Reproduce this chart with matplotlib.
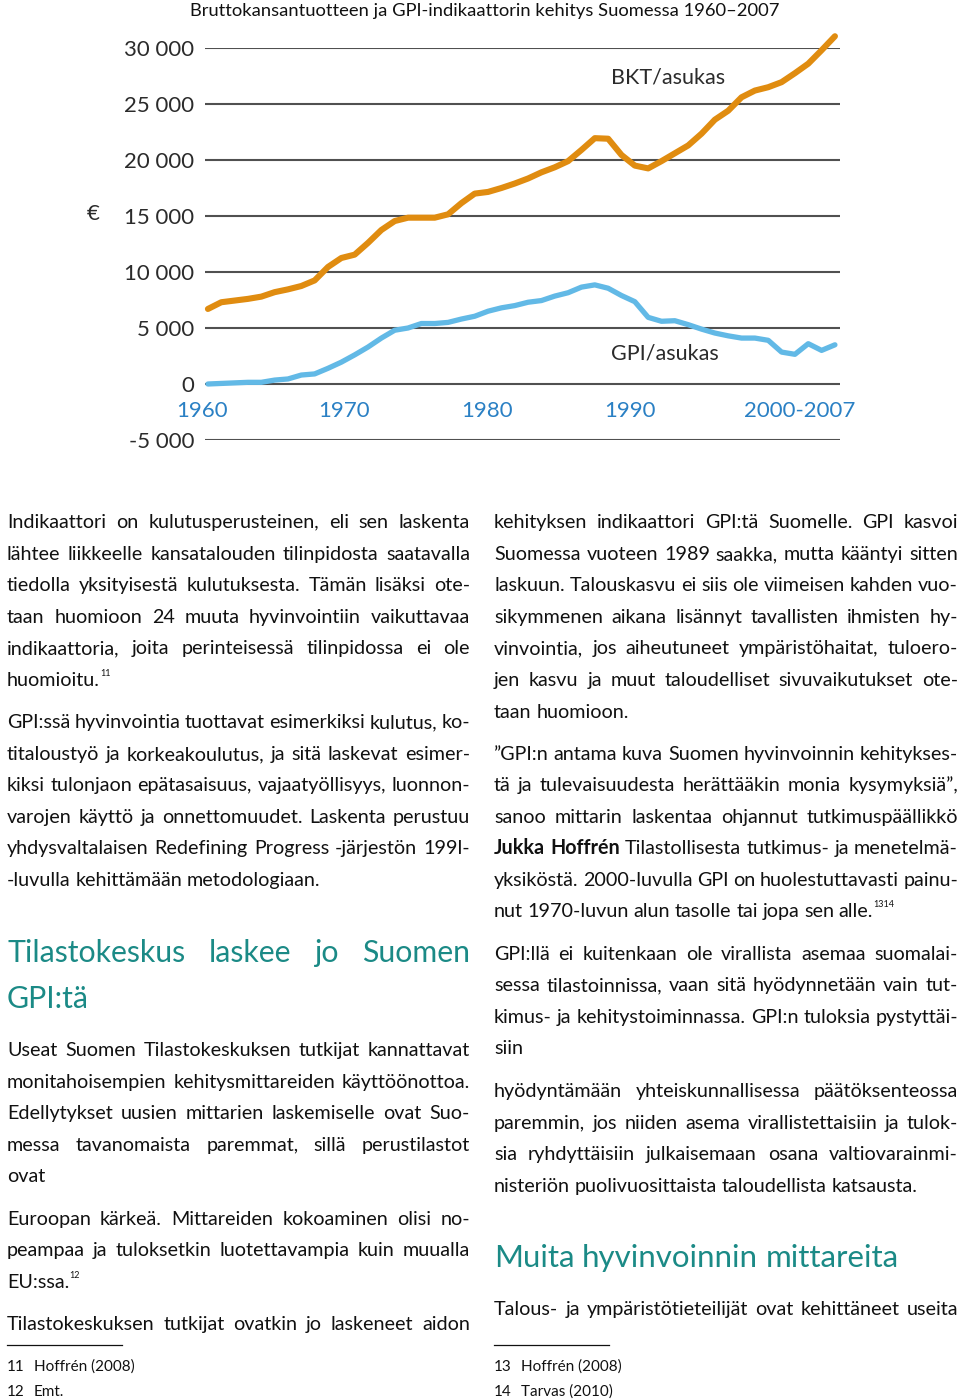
import matplotlib
matplotlib.use("Agg")
import matplotlib.pyplot as plt
from matplotlib.ticker import FixedLocator

# ---------------- data ----------------
years = list(range(1960, 2008))
bkt_per_capita = [6700, 7300, 7450, 7600, 7800, 8200, 8450, 8750, 9250, 10450,
                  11250, 11550, 12600, 13750, 14550, 14850, 14850, 14850, 15150, 16150,
                  17000, 17150, 17500, 17900, 18350, 18900, 19350, 19900, 20900, 21950,
                  21900, 20450, 19500, 19250, 19900, 20600, 21300, 22350, 23600, 24400,
                  25600, 26200, 26500, 26950, 27750, 28600, 29800, 31050]
gpi_per_capita = [0, 50, 100, 150, 150, 350, 450, 800, 900, 1400,
                  1950, 2600, 3300, 4100, 4800, 5000, 5400, 5400, 5500, 5800,
                  6050, 6500, 6800, 7000, 7300, 7450, 7850, 8150, 8650, 8850,
                  8550, 7900, 7350, 5950, 5600, 5650, 5300, 4900, 4550, 4300,
                  4100, 4100, 3900, 2850, 2650, 3600, 3000, 3500]
y_ticks = [-5000, 0, 5000, 10000, 15000, 20000, 25000, 30000]
y_tick_labels = ["-5 000", "0", "5 000", "10 000", "15 000", "20 000", "25 000", "30 000"]
year_labels = ["1960", "1970", "1980", "1990", "2000-2007"]
series_names = ["BKT/asukas", "GPI/asukas"]
chart_title = "Bruttokansantuotteen ja GPI-indikaattorin kehitys Suomessa 1960–2007"

# body text: (kind, text)  kinds: J justified, L left, HJ heading justified, HL heading left
left_col = [
    ("J", "Indikaattori on kulutusperusteinen, eli sen laskenta"),
    ("J", "lähtee liikkeelle kansatalouden tilinpidosta saatavalla"),
    ("J", "tiedolla yksityisestä kulutuksesta. Tämän lisäksi ote-"),
    ("J", "taan huomioon 24 muuta hyvinvointiin vaikuttavaa"),
    ("J", "indikaattoria, joita perinteisessä tilinpidossa ei ole"),
    ("L", "huomioitu.", "11"),
    ("J", "GPI:ssä hyvinvointia tuottavat esimerkiksi kulutus, ko-"),
    ("J", "titaloustyö ja korkeakoulutus, ja sitä laskevat esimer-"),
    ("J", "kiksi tulonjaon epätasaisuus, vajaatyöllisyys, luonnon-"),
    ("J", "varojen käyttö ja onnettomuudet. Laskenta perustuu"),
    ("J", "yhdysvaltalaisen Redefining Progress -järjestön 199l-"),
    ("L", "-luvulla kehittämään metodologiaan."),
    ("HJ", "Tilastokeskus laskee jo Suomen"),
    ("HL", "GPI:tä"),
    ("J", "Useat Suomen Tilastokeskuksen tutkijat kannattavat"),
    ("J", "monitahoisempien kehitysmittareiden käyttöönottoa."),
    ("J", "Edellytykset uusien mittarien laskemiselle ovat Suo-"),
    ("J", "messa tavanomaista paremmat, sillä perustilastot"),
    ("L", "ovat"),
    ("J", "Euroopan kärkeä. Mittareiden kokoaminen olisi no-"),
    ("J", "peampaa ja tuloksetkin luotettavampia kuin muualla"),
    ("L", "EU:ssa.", "12"),
    ("J", "Tilastokeskuksen tutkijat ovatkin jo laskeneet aidon"),
]
right_col = [
    ("J", "kehityksen indikaattori GPI:tä Suomelle. GPI kasvoi"),
    ("J", "Suomessa vuoteen 1989 saakka, mutta kääntyi sitten"),
    ("J", "laskuun. Talouskasvu ei siis ole viimeisen kahden vuo-"),
    ("J", "sikymmenen aikana lisännyt tavallisten ihmisten hy-"),
    ("J", "vinvointia, jos aiheutuneet ympäristöhaitat, tuloero-"),
    ("J", "jen kasvu ja muut taloudelliset sivuvaikutukset ote-"),
    ("L", "taan huomioon."),
    ("J", "”GPI:n antama kuva Suomen hyvinvoinnin kehitykses-"),
    ("J", "tä ja tulevaisuudesta herättääkin monia kysymyksiä”,"),
    ("J", "sanoo mittarin laskentaa ohjannut tutkimuspäällikkö"),
    ("J", "**Jukka **Hoffrén Tilastollisesta tutkimus- ja menetelmä-"),
    ("J", "yksiköstä. 2000-luvulla GPI on huolestuttavasti painu-"),
    ("L", "nut 1970-luvun alun tasolle tai jopa sen alle.", "1314"),
    ("J", "GPI:llä ei kuitenkaan ole virallista asemaa suomalai-"),
    ("J", "sessa tilastoinnissa, vaan sitä hyödynnetään vain tut-"),
    ("J", "kimus- ja kehitystoiminnassa. GPI:n tuloksia pystyttäi-"),
    ("L", "siin"),
    ("J", "hyödyntämään yhteiskunnallisessa päätöksenteossa"),
    ("J", "paremmin, jos niiden asema virallistettaisiin ja tulok-"),
    ("J", "sia ryhdyttäisiin julkaisemaan osana valtiovarainmi-"),
    ("L", "nisteriön puolivuosittaista taloudellista katsausta."),
    ("HL", "Muita hyvinvoinnin mittareita"),
    ("J", "Talous- ja ympäristötieteilijät ovat kehittäneet useita"),
]
footnotes_left = [("11", "Hoffrén (2008)"), ("12", "Emt.")]
footnotes_right = [("13", "Hoffrén (2008)"), ("14", "Tarvas (2010)")]

# ---------------- layout / style ----------------
W, H = 960, 1399
FONT = "Lato"
CHART_FONT = "Lato"
TXT = "#111111"
TEAL = "#1b8a86"
ORANGE = "#e08c10"
LIGHTBLUE = "#62b9e6"
YEARBLUE = "#2a80c4"
GRID = "#505050"
BODY_SIZE = 14.2
HEAD_SIZE = 21.8
HEAD2_SIZE = 22.5

left_baselines = [528, 560, 591, 623, 654, 686, 728, 760, 791, 823, 854, 886,
                  962, 1008, 1056, 1088, 1119, 1151, 1182, 1225, 1256, 1288, 1330]
right_baselines = [528, 560, 591, 623, 654, 686, 718, 760, 791, 823, 854, 886, 917,
                   960, 991, 1023, 1054, 1097, 1129, 1160, 1192, 1267, 1315]

fig = plt.figure(figsize=(W / 100, H / 100), dpi=100)
fig.patch.set_facecolor("white")

# page axes in pixel coordinates
pg = fig.add_axes([0, 0, 1, 1])
pg.set_xlim(0, W)
pg.set_ylim(H, 0)
pg.axis("off")
pg.set_facecolor("none")

# ---------------- chart ----------------
gx0, gx1, gy_top, gy_bot = 205, 840, 48, 440
ax = fig.add_axes([gx0 / W, 1 - gy_bot / H, (gx1 - gx0) / W, (gy_bot - gy_top) / H])
ax.set_facecolor("none")
ax.set_xlim(1959.78, 2007.38)
ax.set_ylim(-5000, 30000)
for s in ax.spines.values():
    s.set_visible(False)
ax.set_xticks([])
ax.yaxis.set_major_locator(FixedLocator(y_ticks))
ax.set_yticklabels(y_tick_labels)
ax.tick_params(axis="y", length=0, pad=7.5, labelsize=16, labelcolor="#2b2b2b")
for lab in ax.get_yticklabels():
    lab.set_fontfamily(CHART_FONT)
ax.yaxis.grid(True, color=GRID, linewidth=1.5)
ax.set_axisbelow(True)

ax.plot(years, bkt_per_capita, color=ORANGE, linewidth=4.4, clip_on=False,
        solid_joinstyle="round", solid_capstyle="round", zorder=3)
ax.plot(years, gpi_per_capita, color=LIGHTBLUE, linewidth=3.8, clip_on=False,
        solid_joinstyle="round", solid_capstyle="round", zorder=3)

pg.text(611, 83, series_names[0], fontsize=15.5, family=CHART_FONT, color="#2b2b2b", va="baseline")
pg.text(611, 360, series_names[1], fontsize=15.5, family=CHART_FONT, color="#2b2b2b", va="baseline")
pg.text(93, 214, "€", fontsize=16, family=CHART_FONT, color="#2b2b2b", ha="center", va="center")

year_label_x = [202, 344, 487, 630, 800]
for xl, lab in zip(year_label_x, year_labels):
    pg.text(xl, 411, lab, fontsize=16, family=CHART_FONT, color=YEARBLUE, ha="center", va="center")

renderer = fig.canvas.get_renderer()

# title, fitted to the reference width
title = pg.text(485, 16, chart_title, fontsize=12, family=FONT, color=TXT, ha="center", va="baseline")
tw = title.get_window_extent(renderer).width
title.set_fontsize(12 * 587 / tw)


# ---------------- text layout helpers ----------------
def place_line(y, x0, x1, text, justify, size, color, sup=None):
    words = text.split(" ")
    arts = []
    for w in words:
        weight = "normal"
        if w.startswith("**"):
            w = w[2:]
            weight = "bold"
        t = pg.text(x0, y, w, fontsize=size, color=color, family=FONT,
                    fontweight=weight, va="baseline", ha="left")
        arts.append(t)
    widths = [a.get_window_extent(renderer).width for a in arts]
    if justify and len(arts) > 1:
        gap = (x1 - x0 - sum(widths)) / (len(arts) - 1)
    else:
        gap = size * 100 / 72 * 0.24
    x = x0
    for a, wd in zip(arts, widths):
        a.set_x(x)
        x += wd + gap
    end = x - gap
    if sup:
        pg.text(end, y - 10, sup, fontsize=6.5, color=color, family=FONT, va="baseline")
    return end


def column(lines, baselines, x0, x1):
    for item, yb in zip(lines, baselines):
        kind, text = item[0], item[1]
        sup = item[2] if len(item) > 2 else None
        if kind == "J":
            place_line(yb, x0, x1, text, True, BODY_SIZE, TXT, sup)
        elif kind == "L":
            place_line(yb, x0, x1, text, False, BODY_SIZE, TXT, sup)
        elif kind == "HJ":
            place_line(yb, x0, x1, text, True, HEAD_SIZE, TEAL)
        elif kind == "HL":
            size = HEAD_SIZE if x0 < 100 else HEAD2_SIZE
            place_line(yb, x0, x1, text, False, size, TEAL)


column(left_col, left_baselines, 7, 470)
column(right_col, right_baselines, 494, 958)

# footnote rules and notes
pg.plot([7, 122], [1345, 1345], color=TXT, linewidth=0.9)
pg.plot([494, 609], [1345, 1345], color=TXT, linewidth=0.9)
for (num, txt), yb in zip(footnotes_left, [1371, 1396]):
    pg.text(7, yb, num, fontsize=11, family=FONT, color=TXT, va="baseline")
    pg.text(34, yb, txt, fontsize=11, family=FONT, color=TXT, va="baseline")
for (num, txt), yb in zip(footnotes_right, [1371, 1396]):
    pg.text(494, yb, num, fontsize=11, family=FONT, color=TXT, va="baseline")
    pg.text(521, yb, txt, fontsize=11, family=FONT, color=TXT, va="baseline")

fig.savefig("out.png", dpi=100, facecolor="white")
